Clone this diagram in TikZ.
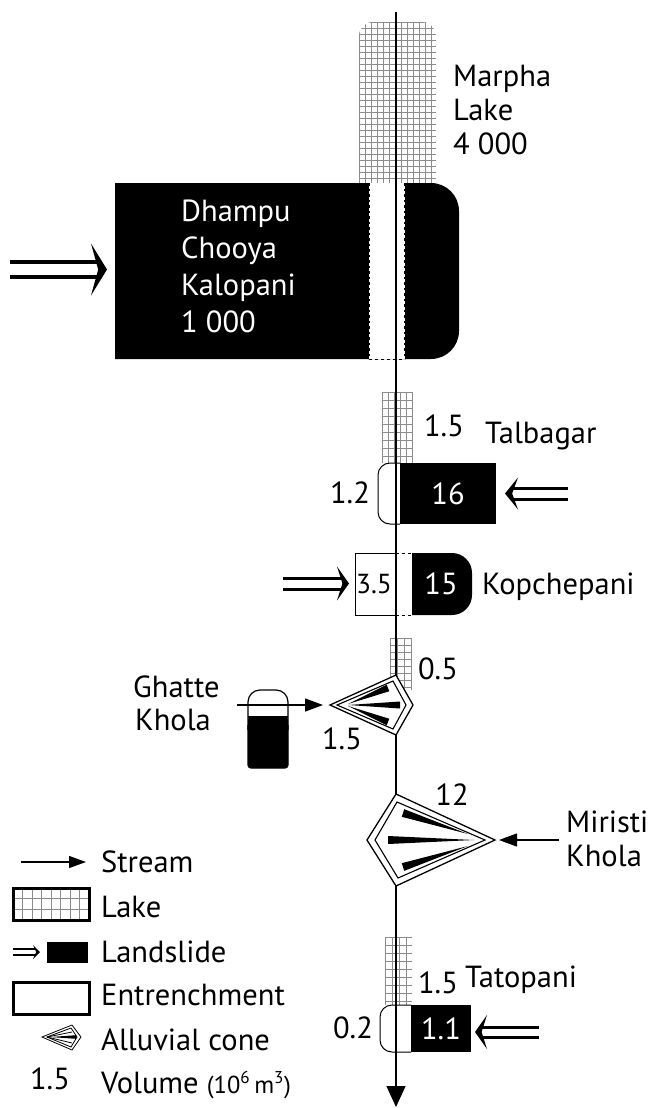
\documentclass[tikz,border=0pt]{standalone}
\usepackage{fontspec}
\setmainfont{PT Sans}
\usetikzlibrary{arrows.meta,calc}
\newcommand\fsmain{\fontsize{30.5}{35}\selectfont}
\newcommand\fssmall{\fontsize{27.5}{31}\selectfont}
\newcommand\fstiny{\fontsize{24.5}{28}\selectfont}
% lake grid in a rectangle: x1 y1 x2 y2 dx dy
\newcommand\lakerect[6]{%
  \begin{scope}
    \clip (#1,#2) rectangle (#3,#4);
    \foreach \i in {0,...,30} {\draw[lakeline] ({#1+\i*#5},#2) -- ({#1+\i*#5},#4);}
    \foreach \i in {0,...,30} {\draw[lakeline] (#1,{#2+\i*#6}) -- (#3,{#2+\i*#6});}
  \end{scope}}
% landslide double arrow: tail x, tip x, y, half gap, line width, head length, head half height
\newcommand\slidearrow[7]{%
  \pgfmathsetmacro\sd{ifthenelse(#2>#1,1,-1)}%
  \pgfmathsetmacro\hb{#2-\sd*#6}%
  \pgfmathsetmacro\hn{#2-\sd*#6*0.55}%
  \draw[line width=#5pt] (#1,#3-#4) -- (\hn,#3-#4);
  \draw[line width=#5pt] (#1,#3+#4) -- (\hn,#3+#4);
  \fill (#2,#3) -- (\hb,#3-#7) -- (\hn,#3) -- (\hb,#3+#7) -- cycle;}
% black wedge: wide end #1, point #2, half width #3
\newcommand\conewedge[3]{\fill #2 -- ($#1!#3!90:#2$) -- ($#1!#3!-90:#2$) -- cycle;}
\begin{document}
\begin{tikzpicture}[x=1pt,y=-1pt,
  lbl/.style={font=\fsmain, inner sep=0pt},
  wlbl/.style={lbl, text=white},
  lakeline/.style={draw=black!45, line width=0.6pt},
  stream/.style={line width=1.3pt},
  streamarrow/.style={line width=1.3pt, -{Triangle[length=18pt,width=13pt]}},
  entr/.style={draw=black, fill=white, line width=1pt},
  cone/.style={draw=black, fill=white, line width=1.3pt, line join=miter},
  coneinner/.style={draw=black, line width=1.1pt, line join=miter},
  strip/.style={dash pattern=on 2.5pt off 3pt, line width=1.3pt},
  legbox/.style={draw=black, line width=3pt}]
\useasboundingbox (0,0) rectangle (657,1108);

% ---------- Marpha Lake ----------
\begin{scope}
  \clip[rounded corners=14pt] (359,22) rectangle (436,240);
  \foreach \i in {0,...,14} {\draw[lakeline] ({359+\i*6},22) -- ({359+\i*6},240);}
  \foreach \i in {0,...,37} {\draw[lakeline] (359,{22+\i*6}) -- (436,{22+\i*6});}
\end{scope}
\node[lbl, anchor=base west] (marpha) at (453,86) {Marpha};
\node[lbl, anchor=base west] (marphalake) at (453,120) {Lake};
\node[lbl, anchor=base west] (marphavol) at (453,154) {4 000};

% ---------- Dhampu Chooya Kalopani ----------
\fill[rounded corners=28pt] (115,183) -- (459,183) -- (459,359) -- (115,359);
\fill[white] (369,183) rectangle (405,359);
\draw[strip] (369,183) -- (369,359);
\draw[strip] (405,183) -- (405,359);
\draw[dash pattern=on 3pt off 3pt, line width=0.8pt] (369,359) -- (405,359);
\node[wlbl, anchor=base west] (dhampu) at (181,221) {Dhampu};
\node[wlbl, anchor=base west] (chooya) at (181,258) {Chooya};
\node[wlbl, anchor=base west] (kalopani) at (181,295) {Kalopani};
\node[wlbl, anchor=base west] (dhvol) at (181,332) {1 000};
\slidearrow{10}{107}{269.5}{7.5}{4}{16}{26}

% ---------- Talbagar ----------
\lakerect{382}{392}{413}{463}{6}{8}
\node[lbl] (talvol) at (444,426) {1.5};
\node[lbl, anchor=base west] (talbagar) at (485,443) {Talbagar};
\filldraw[entr, rounded corners=12pt] (400,463) -- (378,463) -- (378,524) -- (400,524);
\node[fill=black, minimum width=96pt, minimum height=61pt, inner sep=0pt, font=\fsmain, text=white] (talbox) at (448,493.5) {16};
\node[lbl] (talent) at (350,493) {1.2};
\slidearrow{568}{505}{493.5}{5.5}{3}{13}{16}

% ---------- Kopchepani ----------
\filldraw[white] (355,553) rectangle (412,615);
\draw[line width=1pt] (396,553) -- (355,553) -- (355,615) -- (396,615);
\draw[dash pattern=on 3pt off 3pt, line width=0.8pt] (396,553) -- (412,553);
\draw[dash pattern=on 3pt off 3pt, line width=0.8pt] (396,615) -- (412,615);
\fill[rounded corners=20pt] (412,553) -- (472,553) -- (472,615) -- (412,615);
\node[font=\fssmall, inner sep=0pt] (kopent) at (374,584) {3.5};
\node[wlbl] (kopbox) at (441,584) {15};
\node[lbl, anchor=base west] (kopchepani) at (482,594) {Kopchepani};
\slidearrow{283}{349}{583.5}{5.5}{3}{12}{17}

% ---------- Ghatte Khola cone ----------
\lakerect{390}{638}{412}{690}{7}{7}
\coordinate (gT) at (396,675);
\coordinate (gB) at (396,735);
\filldraw[cone] (330,705) -- (gT) -- (413,705) -- (gB) -- cycle;
\draw[coneinner] (337,705) -- (393,681) -- (406,705) -- (393,729) -- cycle;
\conewedge{(388,688)}{(348,704)}{3.5pt}
\conewedge{(400,705)}{(348,705)}{3.5pt}
\conewedge{(388,722)}{(348,706)}{3.5pt}
\node[lbl] (ghvol) at (438,669) {0.5};
\node[lbl] (ghcone) at (342,739) {1.5};
\node[lbl, anchor=base west] (ghatte) at (133,697) {Ghatte};
\node[lbl, anchor=base west] (ghkhola) at (135,730) {Khola};
% small landslide symbol
\fill[white, rounded corners=12pt] (248,690) rectangle (288,768);
\fill[rounded corners=3pt] (248,717) rectangle (288,768);
\draw[line width=1.2pt, rounded corners=12pt] (248,730) -- (248,690) -- (288,690) -- (288,730);
\draw[line width=1.2pt, rounded corners=3pt] (248,725) -- (248,768) -- (288,768) -- (288,725);
\draw[line width=1.2pt] (248,717) -- (288,717);
\coordinate (ghtail) at (237,705);
\draw[streamarrow] (ghtail) -- (323,705);

% ---------- Miristi Khola cone ----------
\coordinate (mT) at (396,794);
\coordinate (mB) at (396,886);
\filldraw[cone] (mT) -- (367,840) -- (mB) -- (495,840) -- cycle;
\draw[coneinner] (397,802) -- (375,840) -- (398,878) -- (485,840) -- cycle;
\conewedge{(403,813)}{(468,834)}{4pt}
\conewedge{(388,840)}{(474,840)}{4pt}
\conewedge{(403,867)}{(468,846)}{4pt}
\node[lbl] (mivol) at (452,795) {12};
\node[lbl, anchor=base west] (miristi) at (566,832) {Miristi};
\node[lbl, anchor=base west] (mikhola) at (566,866) {Khola};
\coordinate (mitail) at (559,840);
\draw[streamarrow] (mitail) -- (499,840);

% ---------- Tatopani ----------
\lakerect{385}{937}{412}{1005}{7}{8}
\node[lbl] (tatvol) at (438,983) {1.5};
\node[lbl, anchor=base west] (tatopani) at (465,987) {Tatopani};
\filldraw[entr, rounded corners=12pt] (411,1005) -- (380,1005) -- (380,1052) -- (411,1052);
\node[fill=black, minimum width=60pt, minimum height=47pt, inner sep=0pt, font=\fsmain, text=white] (tatbox) at (441,1028.5) {1.1};
\node[lbl] (tatent) at (353,1028) {0.2};
\slidearrow{539}{475}{1032}{5}{3}{12}{17}

% ---------- main stream ----------
\coordinate (s0) at (396,12);
\coordinate (send) at (396,1107);
\draw[stream] (s0) -- (gT);
\draw[stream] (gB) -- (mT);
\draw[stream, -{Triangle[length=21pt,width=19pt]}] (mB) -- (send);

% ---------- legend ----------
\coordinate (lsa) at (21,862);
\coordinate (lsb) at (86,862);
\draw[streamarrow, -{Triangle[length=17pt,width=12pt]}] (lsa) -- (lsb);
\node[lbl, anchor=base west] (lstream) at (101,872) {Stream};
\lakerect{13}{888}{89}{920}{9.5}{10.7}
\draw[legbox] (13,888) rectangle (89,920);
\node[lbl, anchor=base west] (llake) at (101,917) {Lake};
\slidearrow{13}{40}{952}{3}{1.2}{7}{7}
\fill (47,942) rectangle (88,963);
\node[lbl, anchor=base west] (lslide) at (101,962) {Landslide};
\draw[legbox] (13,982) rectangle (89,1014);
\node[lbl, anchor=base west] (lentr) at (101,1005) {Entrenchment};
\draw[line width=0.8pt, line join=miter] (42,1037) -- (72,1025) -- (81,1037) -- (72,1050) -- cycle;
\draw[line width=0.8pt, line join=miter] (47,1037) -- (71,1028) -- (77,1037) -- (71,1047) -- cycle;
\conewedge{(76,1037)}{(50,1037)}{1.8pt}
\draw[line width=0.8pt] (47,1037) -- (72,1032);
\draw[line width=0.8pt] (47,1037) -- (72,1043);
\node[lbl, anchor=base west] (lcone) at (101,1050) {Alluvial cone};
\node[lbl] (lvolnum) at (50,1079) {1.5};
\node[lbl, anchor=base west] (lvol) at (101,1093) {Volume {\fstiny (10\textsuperscript{6}\,m\textsuperscript{3})}};
\end{tikzpicture}
\end{document}
